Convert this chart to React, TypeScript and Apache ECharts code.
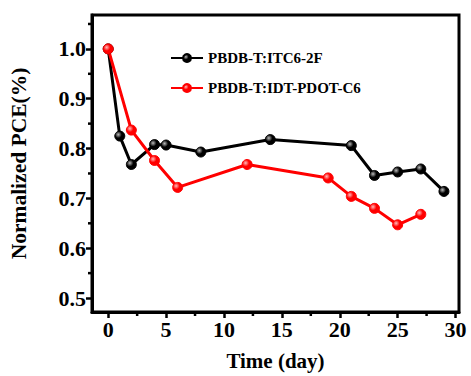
import React, { useEffect, useRef } from "react";
import * as echarts from "echarts";

const seriesNames = ["PBDB-T:ITC6-2F", "PBDB-T:IDT-PDOT-C6"];
const daysA = [0, 1, 2, 4, 5, 8, 14, 21, 23, 25, 27, 29];
const pceA = [1.0, 0.825, 0.768, 0.808, 0.807, 0.793, 0.818, 0.806, 0.746, 0.753, 0.759, 0.714];
const daysB = [0, 2, 4, 6, 12, 19, 21, 23, 25, 27];
const pceB = [1.0, 0.837, 0.776, 0.722, 0.768, 0.741, 0.704, 0.68, 0.647, 0.668];
const xTicks = [0, 5, 10, 15, 20, 25, 30];
const xMinor = [2.5, 7.5, 12.5, 17.5, 22.5, 27.5];
const yTicks = [0.5, 0.6, 0.7, 0.8, 0.9, 1.0];
const yMinor = [0.55, 0.65, 0.75, 0.85, 0.95, 1.05];

const FONT = "'Liberation Serif', 'Times New Roman', serif";

function sphere(base: string, hi: string) {
  return new echarts.graphic.RadialGradient(0.35, 0.35, 0.7, [
    { offset: 0, color: hi },
    { offset: 0.5, color: base },
    { offset: 1, color: base },
  ]);
}

export default function App() {
  const ref = useRef<HTMLDivElement>(null);
  useEffect(() => {
    const chart = echarts.init(ref.current!, undefined, { renderer: "svg" });
    const xMin = -1.4, xMax = 30.3, yMin = 0.472, yMax = 1.068;
    const tickLabel = { fontFamily: FONT, fontWeight: "bold" as const, fontSize: 22, color: "#000" };
    const line = { show: true, onZero: false, lineStyle: { color: "#000", width: 3 } };
    chart.setOption({
      animation: false,
      backgroundColor: "#fff",
      grid: { left: 88, top: 15, right: 12, bottom: 62, show: true, borderColor: "#000", borderWidth: 3 },
      legend: {
        left: 170,
        top: 50,
        padding: 0,
        orient: "vertical",
        itemWidth: 32,
        itemHeight: 10,
        itemGap: 14,
        textStyle: { fontFamily: FONT, fontWeight: "bold", fontSize: 15, color: "#000", lineHeight: 16 },
        data: seriesNames,
      },
      xAxis: [
        {
          type: "value", min: xMin, max: xMax, position: "bottom",
          name: "Time (day)", nameLocation: "middle", nameGap: 38,
          nameTextStyle: { fontFamily: FONT, fontWeight: "bold", fontSize: 21, color: "#000" },
          axisLine: line,
          axisTick: { show: true, inside: false, length: 6, lineStyle: { color: "#000", width: 2.5 }, customValues: xTicks },
          axisLabel: { ...tickLabel, margin: 6, customValues: xTicks, formatter: (v: number) => String(v) },
          splitLine: { show: false },
        },
      ],
      yAxis: [
        {
          type: "value", min: yMin, max: yMax, position: "left",
          name: "Normalized PCE(%)", nameLocation: "middle", nameGap: 62, nameRotate: 90,
          nameTextStyle: { fontFamily: FONT, fontWeight: "bold", fontSize: 21.5, color: "#000" },
          axisLine: line,
          axisTick: { show: true, inside: false, length: 6, lineStyle: { color: "#000", width: 2.5 }, customValues: yTicks },
          axisLabel: { ...tickLabel, margin: 6, customValues: yTicks, formatter: (v: number) => v.toFixed(1) },
          splitLine: { show: false },
        },
      ],
      series: [
        {
          name: seriesNames[0], type: "line",
          data: daysA.map((d, i) => [d, pceA[i]]),
          symbol: "circle", symbolSize: 10,
          lineStyle: { color: "#000", width: 3 },
          itemStyle: { color: sphere("#000", "#bbb"), borderColor: "#000", borderWidth: 1 },
        },
        {
          name: seriesNames[1], type: "line",
          data: daysB.map((d, i) => [d, pceB[i]]),
          symbol: "circle", symbolSize: 10,
          lineStyle: { color: "#ff0000", width: 3 },
          itemStyle: { color: sphere("#ff0000", "#ffbbbb"), borderColor: "#ff0000", borderWidth: 1 },
        },
      ],
    });

    // Minor ticks positioned through the chart's own scales
    const minorEls: any[] = [];
    const tickStyle = { stroke: "#000", lineWidth: 2.5 };
    xMinor.forEach((v) => {
      const p = chart.convertToPixel({ xAxisIndex: 0, yAxisIndex: 0 }, [v, yMin]) as number[];
      if (p) {
        minorEls.push({ type: "line", z: 100, silent: true, shape: { x1: p[0], y1: p[1], x2: p[0], y2: p[1] + 4 }, style: tickStyle });
      }
    });
    yMinor.forEach((v) => {
      const p = chart.convertToPixel({ xAxisIndex: 0, yAxisIndex: 0 }, [xMin, v]) as number[];
      if (p) {
        minorEls.push({ type: "line", z: 100, silent: true, shape: { x1: p[0], y1: p[1], x2: p[0] - 4, y2: p[1] }, style: tickStyle });
      }
    });
    chart.setOption({ graphic: minorEls });

    return () => chart.dispose();
  }, []);
  return <div ref={ref} style={{ width: 471, height: 376, position: "absolute", left: 0, top: 0 }} />;
}
